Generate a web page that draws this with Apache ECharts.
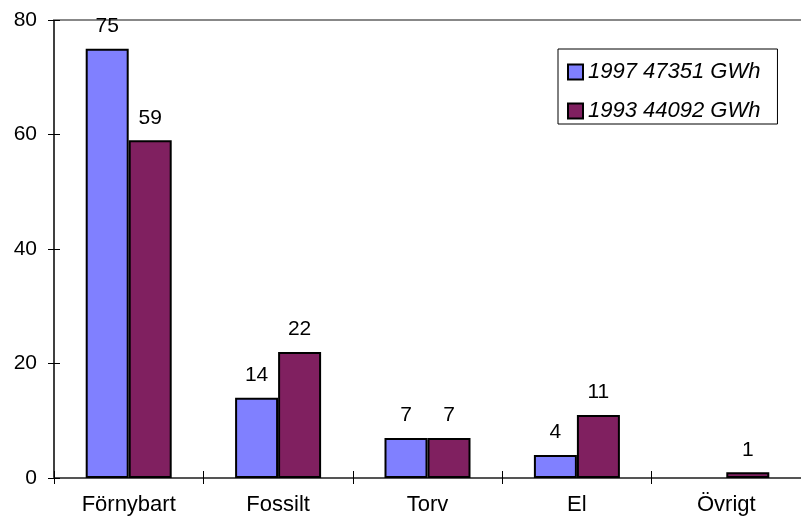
<!DOCTYPE html>
<html>
<head>
<meta charset="utf-8">
<script src="https://cdn.jsdelivr.net/npm/echarts@6/dist/echarts.min.js"></script>
<style>
html,body{margin:0;padding:0;background:#fff;}
#chart{width:801px;height:529px;}
</style>
</head>
<body>
<div id="chart"></div>
<script>
var categories = ['Förnybart', 'Fossilt', 'Torv', 'El', 'Övrigt'];
var seriesNames = ['1997 47351 GWh', '1993 44092 GWh'];
var values1997 = [75, 14, 7, 4, null];
var values1993 = [59, 22, 7, 11, 1];
var yTicks = {min: 0, max: 80, interval: 20};

var FONT = 'Liberation Sans, Arial, sans-serif';
var colors = ['#8080FF', '#802060'];

function barSeries(name, data, color) {
  return {
    name: name,
    type: 'bar',
    data: data,
    barWidth: 43,
    barGap: '0%',
    itemStyle: {color: color, borderColor: '#000', borderWidth: 2},
    label: {
      show: true, position: 'top', distance: 12,
      color: '#000', fontFamily: FONT, fontSize: 21
    },
    emphasis: {disabled: true},
    animation: false
  };
}

var chart = echarts.init(document.getElementById('chart'), null, {renderer: 'canvas'});
chart.setOption({
  animation: false,
  backgroundColor: '#fff',
  grid: {left: 54, top: 20, height: 458, width: 757, containLabel: false},
  legend: {
    orient: 'vertical',
    left: 558, top: 49,
    backgroundColor: '#fff',
    borderColor: '#000', borderWidth: 1,
    padding: [12, 17, 2, 9],
    itemWidth: 15, itemHeight: 15,
    itemGap: 17,
    icon: 'rect',
    textStyle: {fontFamily: FONT, fontSize: 22, fontStyle: 'italic', color: '#000', lineHeight: 22, padding: [0, 0, 0, 0]},
    data: seriesNames
  },
  xAxis: [
    {
      type: 'category', data: categories, position: 'bottom',
      axisLine: {show: true, lineStyle: {color: '#555', width: 2}},
      axisTick: {show: true, interval: 0, length: 6, lineStyle: {color: '#000', width: 1}},
      axisLabel: {color: '#000', fontFamily: FONT, fontSize: 22, margin: 16, interval: 0}
    },
    {
      type: 'category', data: categories, position: 'bottom', gridIndex: 0,
      axisLine: {show: false},
      axisTick: {show: true, inside: true, interval: 0, length: 7, lineStyle: {color: '#000', width: 1}},
      axisLabel: {show: false}
    },
    {
      type: 'category', data: categories, position: 'top', gridIndex: 0,
      axisLine: {show: true, lineStyle: {color: '#888', width: 2}},
      axisTick: {show: false},
      axisLabel: {show: false}
    }
  ],
  yAxis: [
    {
      type: 'value', min: yTicks.min, max: yTicks.max, interval: yTicks.interval,
      axisLine: {show: true, lineStyle: {color: '#000', width: 1.5}},
      axisTick: {show: true, length: 6, lineStyle: {color: '#000', width: 1}},
      axisLabel: {color: '#000', fontFamily: FONT, fontSize: 21, margin: 17},
      splitLine: {show: false}
    },
    {
      type: 'value', min: yTicks.min, max: yTicks.max, interval: yTicks.interval, position: 'left',
      axisLine: {show: false},
      axisTick: {show: true, inside: true, length: 6, lineStyle: {color: '#000', width: 1}},
      axisLabel: {show: false},
      splitLine: {show: false}
    }
  ],
  series: [
    barSeries(seriesNames[0], values1997, colors[0]),
    barSeries(seriesNames[1], values1993, colors[1])
  ]
});
</script>
</body>
</html>
